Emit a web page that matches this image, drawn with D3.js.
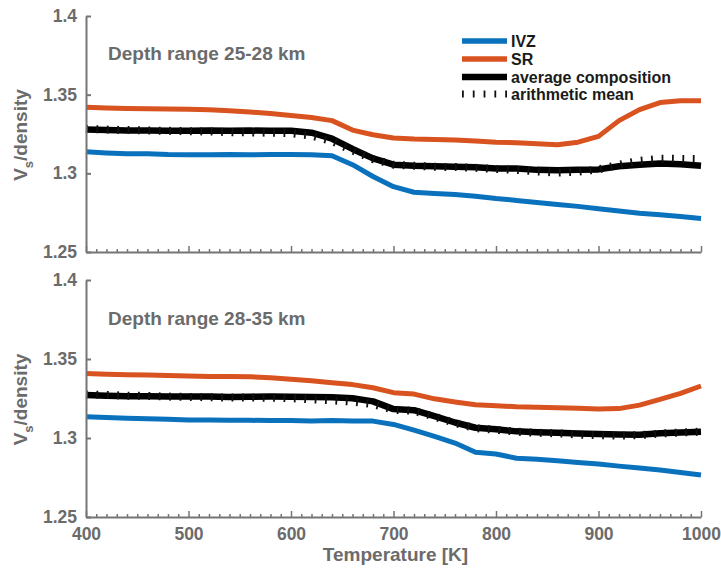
<!DOCTYPE html>
<html>
<head>
<meta charset="utf-8">
<script src="https://cdn.jsdelivr.net/npm/d3@7/dist/d3.min.js"></script>
<style>
  html, body { margin: 0; padding: 0; background: #fff; }
  svg { display: block; }
  text { font-family: "Liberation Sans", Arial, sans-serif; font-weight: bold; }
</style>
</head>
<body>
<svg id="chart" width="721" height="568"></svg>
<script>
// Temperature grid [K]
const temperature = [400,420,440,460,480,500,520,540,560,580,600,620,640,660,680,700,720,740,760,780,800,820,840,860,880,900,920,940,960,980,1000];

// Depth range 25-28 km
const ivzUpper  = [1.3137,1.3130,1.3125,1.3125,1.3120,1.3118,1.3118,1.3120,1.3118,1.3120,1.3120,1.3118,1.3112,1.3055,1.2980,1.2915,1.2880,1.2872,1.2865,1.2855,1.2840,1.2828,1.2815,1.2802,1.2790,1.2775,1.2760,1.2747,1.2737,1.2725,1.2713];
const srUpper   = [1.3420,1.3416,1.3412,1.3410,1.3409,1.3407,1.3404,1.3398,1.3390,1.3380,1.3368,1.3355,1.3335,1.3275,1.3245,1.3225,1.3218,1.3215,1.3212,1.3205,1.3198,1.3195,1.3188,1.3182,1.3198,1.3235,1.3335,1.3405,1.3450,1.3461,1.3461];
const avgUpper  = [1.3279,1.3275,1.3272,1.3272,1.3270,1.3270,1.3272,1.3270,1.3272,1.3270,1.3270,1.3258,1.3220,1.3155,1.3095,1.3055,1.3048,1.3045,1.3042,1.3038,1.3031,1.3030,1.3022,1.3020,1.3022,1.3025,1.3045,1.3055,1.3063,1.3058,1.3048];
const meanUpper = [1.3282,1.3278,1.3275,1.3272,1.3270,1.3268,1.3266,1.3262,1.3260,1.3258,1.3255,1.3240,1.3205,1.3145,1.3090,1.3055,1.3048,1.3042,1.3040,1.3035,1.3028,1.3022,1.3012,1.3005,1.3010,1.3025,1.3055,1.3080,1.3092,1.3092,1.3090];

// Depth range 28-35 km
const ivzLower  = [1.3135,1.3130,1.3125,1.3122,1.3118,1.3114,1.3114,1.3112,1.3112,1.3110,1.3110,1.3108,1.3110,1.3108,1.3107,1.3086,1.3050,1.3010,1.2968,1.2910,1.2899,1.2872,1.2865,1.2856,1.2845,1.2835,1.2822,1.2810,1.2797,1.2782,1.2766];
const srLower   = [1.3409,1.3404,1.3401,1.3398,1.3395,1.3392,1.3390,1.3389,1.3387,1.3382,1.3372,1.3362,1.3350,1.3338,1.3318,1.3287,1.3278,1.3248,1.3228,1.3210,1.3204,1.3198,1.3195,1.3192,1.3188,1.3183,1.3186,1.3208,1.3245,1.3282,1.3329];
const avgLower  = [1.3272,1.3268,1.3265,1.3264,1.3262,1.3262,1.3262,1.3260,1.3261,1.3262,1.3261,1.3260,1.3258,1.3252,1.3232,1.3183,1.3176,1.3138,1.3098,1.3065,1.3055,1.3042,1.3037,1.3033,1.3028,1.3025,1.3022,1.3020,1.3030,1.3035,1.3040];
const meanLower = [1.3275,1.3272,1.3268,1.3266,1.3262,1.3260,1.3258,1.3256,1.3256,1.3255,1.3252,1.3245,1.3238,1.3230,1.3215,1.3178,1.3172,1.3135,1.3095,1.3062,1.3052,1.3040,1.3033,1.3030,1.3022,1.3018,1.3015,1.3018,1.3028,1.3035,1.3040];

const yTicks = [1.25, 1.3, 1.35, 1.4];
const yTickLabels = ["1.25", "1.3", "1.35", "1.4"];
const xTicks = [400, 500, 600, 700, 800, 900, 1000];
const panelTitles = ["Depth range 25-28 km", "Depth range 28-35 km"];
const seriesNames = ["IVZ", "SR", "average composition", "arithmetic mean"];

const axisColor = "#757575";
const textColor = "#6b6b6b";

const styles = [
  { color: "#0a71bd", width: 5, dash: null },
  { color: "#d8531f", width: 5, dash: null },
  { color: "#000000", width: 6.5, dash: null },
  { color: "#111111", width: 8, dash: "1.8,8.6" }
];

const svg = d3.select("#chart");
const left = 86, right = 701;

const x = d3.scaleLinear().domain([400, 1000]).range([left, right]);

const panels = [
  { top: 16, bottom: 252, series: [ivzUpper, srUpper, avgUpper, meanUpper], title: panelTitles[0], showX: false, titleY: 59.5 },
  { top: 280, bottom: 517, series: [ivzLower, srLower, avgLower, meanLower], title: panelTitles[1], showX: true, titleY: 325 }
];

panels.forEach((p) => {
  const y = d3.scaleLinear().domain([1.25, 1.4]).range([p.bottom, p.top]);
  const g = svg.append("g");

  // lines: colored first, then the average and the arithmetic mean
  const line = d3.line().x((d, i) => x(temperature[i])).y(d => y(d));
  p.series.forEach((s, si) => {
    g.append("path")
      .datum(s)
      .attr("d", line)
      .attr("fill", "none")
      .attr("stroke", styles[si].color)
      .attr("stroke-width", styles[si].width)
      .attr("stroke-linejoin", "round")
      .attr("stroke-dasharray", styles[si].dash);
  });

  // y axis (ticks pointing inward)
  const yAxis = d3.axisLeft(y).tickValues(yTicks)
    .tickFormat((d, i) => yTickLabels[i])
    .tickSizeInner(-5).tickSizeOuter(0).tickPadding(9);
  const ya = g.append("g").attr("transform", `translate(${left},0)`).call(yAxis);
  ya.select(".domain").attr("stroke", axisColor).attr("stroke-width", 2);
  ya.selectAll(".tick line").attr("stroke", axisColor).attr("stroke-width", 2);
  ya.selectAll(".tick text").attr("fill", textColor).attr("font-size", 17.5)
    .attr("font-family", "Liberation Sans, Arial, sans-serif").attr("font-weight", "bold");

  // x axis: minor ticks every 10 K, major every 100 K, pointing up
  const minor = d3.range(400, 1001, 10).filter(v => v % 100 !== 0);
  const xMinor = d3.axisBottom(x).tickValues(minor).tickFormat("").tickSizeInner(-3).tickSizeOuter(0);
  const xm = g.append("g").attr("transform", `translate(0,${p.bottom})`).call(xMinor);
  xm.select(".domain").remove();
  xm.selectAll(".tick line").attr("stroke", axisColor).attr("stroke-width", 1.5);

  const xMajor = d3.axisBottom(x).tickValues(xTicks)
    .tickFormat(p.showX ? d3.format("d") : "")
    .tickSizeInner(-6).tickSizeOuter(0).tickPadding(11);
  const xa = g.append("g").attr("transform", `translate(0,${p.bottom})`).call(xMajor);
  xa.select(".domain").attr("stroke", axisColor).attr("stroke-width", 2);
  xa.selectAll(".tick line").attr("stroke", axisColor).attr("stroke-width", 1.5);
  xa.selectAll(".tick text").attr("fill", textColor).attr("font-size", 17.5)
    .attr("font-family", "Liberation Sans, Arial, sans-serif").attr("font-weight", "bold");

  // panel title
  g.append("text").attr("x", 108).attr("y", p.titleY)
    .attr("fill", textColor).attr("font-size", 19).text(p.title);

  // y label with subscript
  const cy = (p.top + p.bottom) / 2 + 1;
  const yl = g.append("text")
    .attr("transform", `translate(27,${cy}) rotate(-90)`)
    .attr("text-anchor", "middle")
    .attr("fill", textColor).attr("font-size", 19);
  yl.append("tspan").text("V");
  yl.append("tspan").attr("font-size", 13).attr("dy", 6).text("s");
  yl.append("tspan").attr("dy", -6).text("/density");
});

// x axis title
svg.append("text").attr("x", (left + right) / 2 + 2).attr("y", 561)
  .attr("text-anchor", "middle").attr("fill", textColor).attr("font-size", 19)
  .text("Temperature [K]");

// legend
const legend = svg.append("g");
const legendRows = [41, 59, 77, 94];
seriesNames.forEach((name, i) => {
  legend.append("line")
    .attr("x1", 462).attr("x2", 507)
    .attr("y1", legendRows[i]).attr("y2", legendRows[i])
    .attr("stroke", styles[i].color)
    .attr("stroke-width", i === 3 ? 7 : (i === 2 ? 6.5 : 5.5))
    .attr("stroke-dasharray", i === 3 ? "1.8,9" : null);
  legend.append("text")
    .attr("x", 511).attr("y", legendRows[i] + 6)
    .attr("fill", "#1a1a1a").attr("font-size", 16)
    .text(name);
});
</script>
</body>
</html>
